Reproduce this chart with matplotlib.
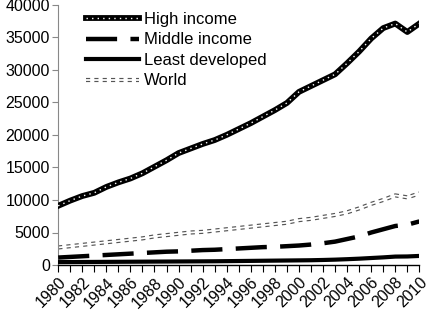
import matplotlib
matplotlib.use("Agg")
import matplotlib.pyplot as plt
import numpy as np

plt.rcParams["font.family"] = ["Liberation Sans", "DejaVu Sans"]

years = list(range(1980, 2011))
high_income = [9100, 9900, 10600, 11100, 12000, 12700, 13300, 14100, 15100, 16100,
               17200, 17900, 18600, 19200, 20000, 20900, 21800, 22800, 23800, 24900,
               26600, 27500, 28400, 29300, 31000, 32800, 34800, 36400, 37100, 35800, 37100]
middle_income = [1150, 1250, 1350, 1450, 1550, 1650, 1750, 1850, 1950, 2050,
                 2100, 2200, 2300, 2350, 2450, 2550, 2650, 2750, 2800, 2900,
                 3000, 3150, 3350, 3600, 4000, 4400, 5000, 5500, 6000, 6200, 6700]
least_developed = [450, 460, 470, 480, 490, 500, 510, 520, 530, 540,
                   550, 560, 570, 580, 600, 620, 640, 660, 680, 700,
                   720, 740, 780, 830, 900, 980, 1080, 1180, 1300, 1320, 1400]
world = [2700, 2900, 3100, 3300, 3500, 3700, 3900, 4100, 4400, 4600,
         4800, 5000, 5100, 5300, 5500, 5700, 5900, 6100, 6300, 6500,
         6900, 7100, 7400, 7700, 8100, 8700, 9400, 10000, 10700, 10400, 11000]

fig = plt.figure(figsize=(4.31, 3.10), dpi=100)
ax = fig.add_axes([0.135, 0.145, 0.838, 0.84])

# World: double thin dotted line
w1, = ax.plot(years, world, color="#555555", lw=3.0, ls=(0, (1, 1)), zorder=2)
w2, = ax.plot(years, world, color="white", lw=1.3, zorder=2.1)
# High income: thick black with white dots
h1, = ax.plot(years, high_income, color="black", lw=4.2, zorder=3)
h2, = ax.plot(years, high_income, color="white", lw=1.0, ls=(0, (1, 3)), zorder=3.1)
m1, = ax.plot(years, middle_income, color="black", lw=3.2, ls=(0, (7, 3)), zorder=3)
l1, = ax.plot(years, least_developed, color="black", lw=3.0, zorder=3)

ax.set_xlim(1980, 2010)
ax.set_ylim(0, 40000)
ax.set_yticks(np.arange(0, 40001, 5000))
ax.set_xticks(years, minor=True)
ax.set_xticks(years[::2])
ax.set_xticklabels([str(y) for y in years[::2]], rotation=45, ha="right",
                   rotation_mode="anchor")
ax.tick_params(axis="x", which="both", length=5, width=0.8, labelsize=11.5, pad=2)
ax.tick_params(axis="y", length=4, width=0.8, color="#888888", labelsize=11.5, pad=2)

for s in ["top", "right"]:
    ax.spines[s].set_visible(False)
ax.spines["left"].set_color("#888888")
ax.spines["bottom"].set_linewidth(1.0)

ax.legend([(h1, h2), m1, l1, (w1, w2)],
          ["High income", "Middle income", "Least developed", "World"],
          loc="upper left", bbox_to_anchor=(0.058, 0.998), frameon=False,
          fontsize=12, handlelength=3.2, handletextpad=0.3, labelspacing=0.33,
          borderaxespad=0)

fig.savefig("out.png", dpi=100)
